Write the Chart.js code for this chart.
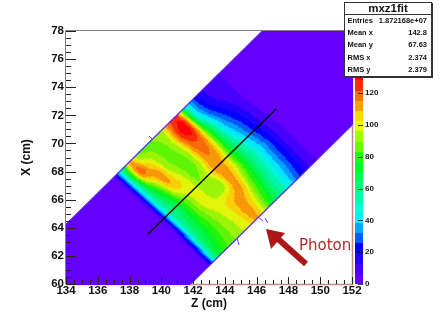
<!DOCTYPE html>
<html><head><meta charset="utf-8">
<style>html,body{margin:0;padding:0;background:#fff}canvas{display:block}</style>
<script src="https://cdn.jsdelivr.net/npm/chart.js@4"></script>
</head><body><canvas id="c" width="441" height="316"></canvas>
<script>
// Fitted intensity, read along the strip (columns) for each cross-strip row.
const row0=[3,55,108,90,88,90,94,120,120,55,28,14,10,7,3];
const row1=[3,55,115,105,92,88,97,126,126,58,30,16,10,7,3];
const row2=[3,52,90,112,94,88,93,118,116,72,40,24,14,7,3];
const row3=[3,52,75,105,100,88,92,114,110,75,46,30,18,8,3];
const row4=[3,52,68,90,100,90,98,114,103,72,52,34,20,9,4];
const row5=[3,52,70,88,100,92,92,112,98,72,54,38,22,10,4];
const row6=[8,55,72,86,96,102,108,110,88,68,52,36,22,10,4];
const row7=[12,60,75,86,94,102,112,100,80,62,48,34,20,9,4];
const row8=[15,65,80,88,94,100,110,95,72,60,46,30,18,9,4];
const fieldRows=[row0,row1,row2,row3,row4,row5,row6,row7,row8];
const gridOrigin=[136.958,67.54];
const alongStep=[0.5035,0.5606];
const acrossStep=[0.7615,-0.7755];
const fitLineZ=[139.16,147.22];
const fitLineX=[63.56,72.45];
const speckZ=[[146.52,146.71],[146.15,146.40],[144.76,144.89],[139.22,139.41]];
const speckX=[[64.70,64.34],[64.70,64.48],[63.27,62.77],[70.53,70.32]];
const levelStep=6.4;
const paletteColors=['#6400ff','#4800ff','#2000ff','#0000ff','#0060ff','#00a8ff','#00f0ff','#00ffd8','#00ffa8','#00ff80','#00ff50','#00ff20','#20ff00','#60ff00','#a0ff00','#e8ff00','#ffd800','#ffa000','#ff7000','#ff3000','#ff0000'];
const statsTitle='mxz1fit';
const statsLabels=['Entries','Mean x','Mean y','RMS x','RMS y'];
const statsValues=['1.872168e+07','142.8','67.63','2.374','2.379'];

const gridPoint=(i,j)=>({x:gridOrigin[0]+i*alongStep[0]+j*acrossStep[0],y:gridOrigin[1]+i*alongStep[1]+j*acrossStep[1]});
const gridData=[];
fieldRows.forEach((r,j)=>r.forEach((v,i)=>gridData.push({...gridPoint(i,j),v})));
const rimA=[gridPoint(-80,0),gridPoint(80,0)];
const rimB=[gridPoint(-80,8),gridPoint(80,8)];
const colorFor=v=>paletteColors[Math.min(paletteColors.length-1,Math.max(0,Math.floor(v/levelStep)))];
const cr=(a,b,c,d,t)=>b+.5*t*(c-a+t*(2*a-5*b+4*c-d+t*(3*(b-c)+d-a)));
const at=(j,i)=>fieldRows[Math.min(fieldRows.length-1,Math.max(0,j))][Math.min(fieldRows[0].length-1,Math.max(0,i))];
const sample=(j,i,t,s)=>{
 const col=[];
 for(let k=-1;k<3;k++)col.push(cr(at(j+k,i-1),at(j+k,i),at(j+k,i+1),at(j+k,i+2),s));
 return cr(col[0],col[1],col[2],col[3],t);
};

const contour={id:'contour',
 beforeDatasetsDraw(ch){
  const {ctx,chartArea:a,scales:{x,y}}=ch;
  const P=(i,j)=>{const p=gridPoint(i,j);return [x.getPixelForValue(p.x),y.getPixelForValue(p.y)];};
  ctx.save();
  ctx.strokeStyle='#c08888';ctx.lineWidth=1.5;
  ctx.beginPath();ctx.moveTo(a.right+.5,a.top);ctx.lineTo(a.right+.5,a.bottom+.5);ctx.lineTo(a.left,a.bottom+.5);ctx.stroke();
  ctx.beginPath();ctx.rect(a.left,a.top,a.width+1,a.height+1);ctx.clip();
  ctx.fillStyle=paletteColors[0];
  const q=[P(-80,0),P(80,0),P(80,8),P(-80,8)];
  ctx.beginPath();q.forEach((p,k)=>k?ctx.lineTo(p[0],p[1]):ctx.moveTo(p[0],p[1]));ctx.closePath();ctx.fill();
  const N=10;ctx.lineWidth=0.6;
  for(let j=0;j<fieldRows.length-1;j++)for(let i=0;i<fieldRows[0].length-1;i++){
   for(let m=0;m<N;m++)for(let n=0;n<N;n++){
    const v=sample(j,i,(n+.5)/N,(m+.5)/N);
    if(v<levelStep)continue;
    const c=colorFor(v);ctx.fillStyle=c;ctx.strokeStyle=c;
    const pts=[P(i+m/N,j+n/N),P(i+(m+1)/N,j+n/N),P(i+(m+1)/N,j+(n+1)/N),P(i+m/N,j+(n+1)/N)];
    ctx.beginPath();pts.forEach((p,k)=>k?ctx.lineTo(p[0],p[1]):ctx.moveTo(p[0],p[1]));ctx.closePath();ctx.fill();ctx.stroke();
   }
  }
  ctx.restore();
 },
 afterDraw(ch){
  const {ctx,chartArea:a,scales:{x,y,z}}=ch;
  ctx.save();
  // frame
  ctx.strokeStyle='#808080';ctx.lineWidth=1;
  ctx.beginPath();ctx.moveTo(a.left-.5,a.bottom);ctx.lineTo(a.left-.5,a.top-.5);ctx.lineTo(a.right,a.top-.5);ctx.stroke();
  // inside ticks
  ctx.strokeStyle='#222';ctx.lineWidth=1;ctx.beginPath();
  x.ticks.forEach(t=>{const p=Math.round(x.getPixelForValue(t.value))+.5,l=t.value%2===0?7:4;ctx.moveTo(p,a.bottom);ctx.lineTo(p,a.bottom-l);});
  y.ticks.forEach(t=>{const p=Math.round(y.getPixelForValue(t.value))+.5,l=t.value%2===0?10:5;ctx.moveTo(a.left,p);ctx.lineTo(a.left+l,p);});
  ctx.stroke();
  // palette bar
  paletteColors.forEach((c,i)=>{
   const y0=z.getPixelForValue(i*levelStep),y1=z.getPixelForValue((i+1)*levelStep);
   ctx.fillStyle=c;ctx.fillRect(355,Math.round(y1),8,Math.round(y0)-Math.round(y1));
  });
  ctx.strokeStyle='rgba(0,0,0,.75)';ctx.beginPath();
  z.ticks.forEach(t=>{if(t.value>120)return;const p=Math.round(z.getPixelForValue(t.value))+.5;ctx.moveTo(358,p);ctx.lineTo(363,p);});
  ctx.stroke();
  // arrow
  ctx.strokeStyle='#ad1616';ctx.fillStyle='#ad1616';ctx.lineWidth=6;
  ctx.beginPath();ctx.moveTo(306,264);ctx.lineTo(277,238);ctx.stroke();
  ctx.beginPath();ctx.moveTo(266,229);ctx.lineTo(285,233);ctx.lineTo(271,249);ctx.closePath();ctx.fill();
  // photon
  ctx.fillStyle='#b02a2a';ctx.font='15px "DejaVu Sans"';ctx.textAlign='left';ctx.textBaseline='alphabetic';
  ctx.fillText('Photon',299,250);
  // stats box
  ctx.fillStyle='#333';ctx.fillRect(345,3,88,75);
  ctx.fillStyle='#fff';ctx.fillRect(344,2,88,75);
  ctx.strokeStyle='#333';ctx.lineWidth=1;ctx.strokeRect(344.5,2.5,87,74);
  ctx.beginPath();ctx.moveTo(344,14.5);ctx.lineTo(432,14.5);ctx.stroke();
  ctx.fillStyle='#111';ctx.textBaseline='middle';ctx.textAlign='center';
  ctx.font='bold 11.5px "Liberation Sans"';ctx.fillText(statsTitle,388,8.5);
  ctx.font='bold 7.5px "Liberation Sans"';
  const ys=[20.5,33,44.5,57.5,70];
  statsLabels.forEach((l,i)=>{ctx.textAlign='left';ctx.fillText(l,347.5,ys[i]);ctx.textAlign='right';ctx.fillText(statsValues[i],427,ys[i]);});
  ctx.restore();
 }};

const numFont={family:'"Liberation Sans"',size:11.5,weight:'bold'};
const titleFont={family:'"Liberation Sans"',size:12,weight:'bold'};
new Chart(document.getElementById('c'),{
 type:'scatter',
 data:{datasets:[
  {label:'field',data:gridData,pointRadius:0,showLine:false},
  {label:'rim A',data:rimA,showLine:true,borderColor:'#5a28ff',borderWidth:1.2,pointRadius:0},
  {label:'rim B',data:rimB,showLine:true,borderColor:'#5a28ff',borderWidth:1.2,pointRadius:0},
  ...speckZ.map((zs,k)=>({label:'edge '+k,data:zs.map((z,i)=>({x:z,y:speckX[k][i]})),showLine:true,borderColor:'#6a30ff',borderWidth:1,pointRadius:0})),
  {label:'fit line',data:fitLineZ.map((z,i)=>({x:z,y:fitLineX[i]})),showLine:true,borderColor:'#000',borderWidth:1.4,pointRadius:0}
 ]},
 options:{responsive:false,animation:false,
  layout:{padding:{top:31,left:0,right:0,bottom:0}},
  plugins:{legend:{display:false},tooltip:{enabled:false},title:{display:false}},
  scales:{
   x:{type:'linear',min:134,max:152,position:'bottom',
    afterFit:s=>{s.height=32;},
    grid:{display:false,drawTicks:false},border:{display:false},
    ticks:{stepSize:.5,autoSkip:false,maxRotation:0,padding:0,color:'#111',font:numFont,callback:v=>v%2===0?String(v):''},
    title:{display:true,text:'Z (cm)',color:'#111',font:titleFont,padding:{top:0,bottom:5}}},
   y:{type:'linear',min:60,max:78,position:'left',
    afterFit:s=>{s.width=66;},
    grid:{display:false,drawTicks:false},border:{display:false},
    ticks:{stepSize:.5,autoSkip:false,padding:2,color:'#111',font:numFont,callback:v=>v%2===0?String(v):''},
    title:{display:true,text:'X (cm)',color:'#111',font:titleFont,padding:{top:19,bottom:0}}},
   z:{type:'linear',min:0,max:159.1,position:'right',
    afterFit:s=>{s.width=89;},
    grid:{display:false,drawTicks:false},border:{display:false},
    ticks:{stepSize:20,padding:13,color:'#111',font:{family:'"Liberation Sans"',size:8,weight:'bold'},callback:v=>v<=120?String(v):''}}
  }
 },
 plugins:[contour]
});
</script></body></html>
